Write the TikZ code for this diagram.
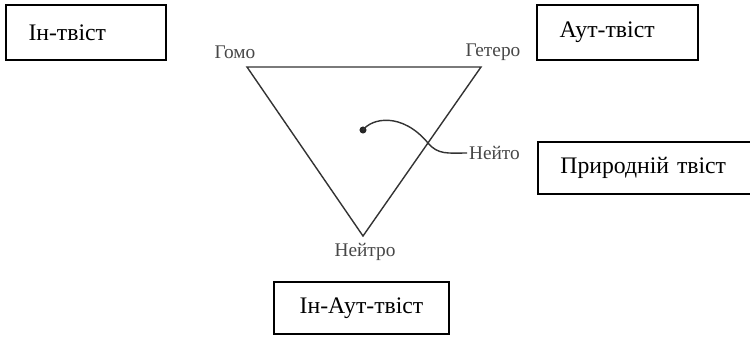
\documentclass[tikz,border=0pt]{standalone}
\usepackage{fontspec}
\setmainfont{Liberation Serif}
\begin{document}
\begin{tikzpicture}[x=0.02cm,y=-0.02cm,
  twistbox/.style={draw,line width=1pt,font=\fontsize{13.5}{16}\selectfont,
    inner xsep=0.45cm,align=left},
  vertexlabel/.style={text=black!72,font=\fontsize{11}{13}\selectfont,inner sep=1pt},
  sideline/.style={draw=black!80,line width=0.8pt}]

\useasboundingbox (0,0) rectangle (750,336);

\node[twistbox,text width=2.3cm,minimum height=1.1cm] (inbox) at (86,32.5) {Ін-твіст};

\node[twistbox,text width=2.32cm,minimum height=1.1cm] (autbox) at (617.5,32.5) {Аут-твіст};

\node[twistbox,text width=3.5cm,minimum height=1.04cm,anchor=west] (naturebox) at (537,168) {Природній твіст};

\node[twistbox,align=center,inner xsep=0.3cm,minimum width=3.5cm,minimum height=1.04cm] (inautbox) at (361.5,308) {Ін-Аут-твіст};

\coordinate (homo) at (247,67);
\coordinate (hetero) at (481,67);
\coordinate (neutro) at (363,236);

\node[vertexlabel] (homolabel) at (235,52) {Гомо};
\node[vertexlabel] (heterolabel) at (493,52) {Гетеро};
\node[vertexlabel] (neutrolabel) at (365,252) {Нейтро};
\node[vertexlabel,anchor=west] (nejtolabel) at (467,153) {Нейто};

\draw[sideline] (homo)--(hetero)--(neutro)--cycle;

\node[circle,fill=black!85,inner sep=0pt,minimum size=4pt] (point) at (363,130) {};
\draw[draw=black!80,line width=0.8pt] (point.center) .. controls (372,118) and (402,112) .. (428,143)
  .. controls (438,155) and (448,153) .. (nejtolabel.west);

\end{tikzpicture}
\end{document}
